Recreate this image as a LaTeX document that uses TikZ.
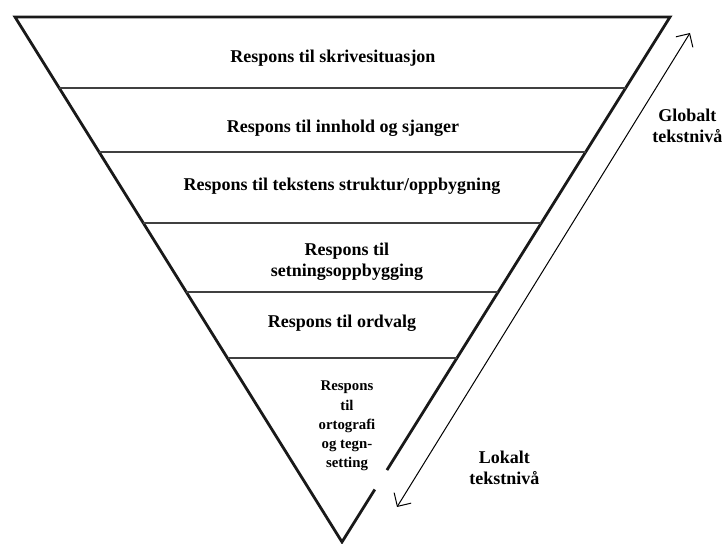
\documentclass[tikz,border=0pt]{standalone}
\usepackage{fontspec}
\setmainfont{Liberation Serif}
\usetikzlibrary{calc,arrows.meta}
\newcommand{\Nivaa}[3][]{\node[#1, inner sep=0pt, align=center, font=\bfseries\fontsize{9}{10.5}\selectfont] (#2) {#3};}
\newcommand{\NivaaSmall}[3][]{\node[#1, inner sep=0pt, align=center, font=\bfseries\fontsize{7.4}{9.6}\selectfont] (#2) {#3};}
\newcommand{\Skille}[1]{\draw[line width=0.9pt, black!75] ($(TL)!#1!(B)$) -- ($(TR)!#1!(B)$);}

\begin{document}
\begin{tikzpicture}[x=0.5pt, y=-0.5pt]
\useasboundingbox (0,0) rectangle (725,544);
	\coordinate (TL) at (15,17);
	\coordinate (TR) at (670,17);
	\coordinate (B) at (342,542);
	\coordinate (lokal) at (397,507);
	\coordinate (global) at (690,33);
	
	\draw[line width=1.4pt, black!90, line join=miter] ($(TR)!0.90!(B)$) -- (B) -- (TL) -- (TR) -- ($(TR)!0.863!(B)$);
	
	\Skille{0.135}
	\Skille{0.257}
	\Skille{0.392}
	\Skille{0.524}
	\Skille{0.65}
	
	\draw[line width=0.5pt, {Straight Barb[length=5pt]}-{Straight Barb[length=5pt]}] (lokal) -- (global);
	
	\Nivaa[at={(333,58)}]{skriv}{Respons til skrivesituasjon}
	\Nivaa[at={(343,128)}]{innhold}{Respons til innhold og sjanger}
	\Nivaa[at={(342,186)}]{struktur}{Respons til tekstens struktur/oppbygning}
	\Nivaa[at={(347,262)}]{setning}{Respons til\\setningsoppbygging}
	\Nivaa[at={(342,323)}]{ordvalg}{Respons til ordvalg}
	\NivaaSmall[at={(347,426)}]{ortografi}{Respons\\til\\ortografi\\og tegn-\\setting}
	
	\Nivaa[at={(652,126)}, anchor=west, align=left]{globalt}{Globalt\\tekstnivå}
	\Nivaa[at={(469,468)}, anchor=west, align=left]{lokalt}{Lokalt\\tekstnivå}

\end{tikzpicture}
\end{document}
